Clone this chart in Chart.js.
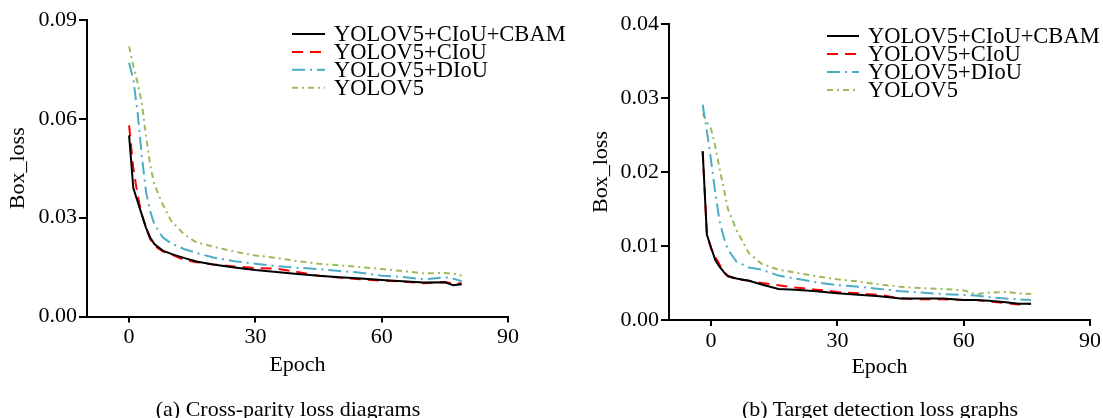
<!DOCTYPE html>
<html>
<head>
<meta charset="utf-8">
<script src="https://cdn.jsdelivr.net/npm/chart.js@4.4.1/dist/chart.umd.min.js"></script>
<style>
  body { margin: 0; background: #fff; }
  #wrap { position: relative; width: 1103px; height: 418px; overflow: hidden; }
  canvas { position: absolute; top: 0; }
  #chart-a { left: 0; }
  #chart-b { left: 551px; }
  .caption {
    position: absolute; top: 396px; height: 24px; line-height: 24px;
    font: 22px "Liberation Serif", serif; color: #000; text-align: center; white-space: nowrap;
  }
</style>
</head>
<body>
<div id="wrap">
  <canvas id="chart-a" width="600" height="418"></canvas>
  <canvas id="chart-b" width="552" height="418"></canvas>
  <div class="caption" style="left:88px;width:400px;">(a) Cross-parity loss diagrams</div>
  <div class="caption" style="left:680px;width:400px;">(b) Target detection loss graphs</div>
</div>
<script>
const seriesNames = ['YOLOV5+CIoU+CBAM', 'YOLOV5+CIoU', 'YOLOV5+DIoU', 'YOLOV5'];

// (a) cross-parity loss
const epochsA = [0, 1, 2, 3, 4, 5, 6, 8, 10, 13, 16, 20, 25, 30, 35, 40, 45, 50, 55, 60, 65, 70, 75, 77, 79];
const cbamA = [0.055, 0.039, 0.035, 0.031, 0.027, 0.024, 0.022, 0.020, 0.019, 0.0178, 0.0167, 0.0158, 0.0149, 0.0141, 0.0135, 0.0129, 0.0124, 0.0119, 0.0115, 0.0111, 0.0107, 0.0103, 0.0104, 0.0095, 0.0098];
const ciouA = [0.058, 0.045, 0.037, 0.031, 0.027, 0.0235, 0.0215, 0.0198, 0.0188, 0.0172, 0.0165, 0.0158, 0.0152, 0.0147, 0.0145, 0.0135, 0.0124, 0.0118, 0.0113, 0.0109, 0.0106, 0.0101, 0.0105, 0.0100, 0.0101];
const diouA = [0.077, 0.072, 0.062, 0.049, 0.038, 0.032, 0.028, 0.024, 0.0222, 0.0205, 0.0193, 0.0179, 0.0168, 0.0160, 0.0153, 0.0148, 0.0144, 0.0138, 0.0133, 0.0124, 0.0120, 0.0113, 0.0119, 0.0115, 0.0107];
const yoloA = [0.082, 0.076, 0.071, 0.065, 0.055, 0.046, 0.040, 0.034, 0.029, 0.0250, 0.0225, 0.0212, 0.0197, 0.0185, 0.0178, 0.0168, 0.0160, 0.0155, 0.0150, 0.0144, 0.0138, 0.0131, 0.0132, 0.0130, 0.0124];
const yTicksA = [0, 0.03, 0.06, 0.09];

// (b) target detection loss
const epochsB = [-2, -1, 0, 1, 2, 3, 4, 6, 9, 12, 16, 20, 25, 30, 35, 40, 45, 50, 55, 60, 63, 66, 70, 73, 76];
const cbamB = [0.0228, 0.0115, 0.0098, 0.0081, 0.0072, 0.0065, 0.0059, 0.0056, 0.0053, 0.0048, 0.0042, 0.0041, 0.0039, 0.0036, 0.0034, 0.0032, 0.0029, 0.0029, 0.0029, 0.0027, 0.0027, 0.0026, 0.0024, 0.0022, 0.0022];
const ciouB = [0.0228, 0.0116, 0.0096, 0.0085, 0.0075, 0.0064, 0.0060, 0.0055, 0.0053, 0.0050, 0.0047, 0.0044, 0.0041, 0.0038, 0.0036, 0.0034, 0.0029, 0.0028, 0.0028, 0.0027, 0.0027, 0.0025, 0.0023, 0.0021, 0.0022];
const diouB = [0.0291, 0.0255, 0.0215, 0.0172, 0.0134, 0.0112, 0.0095, 0.0079, 0.0071, 0.0068, 0.0060, 0.0056, 0.0051, 0.0047, 0.0045, 0.0042, 0.0039, 0.0037, 0.0035, 0.0034, 0.0033, 0.0031, 0.0029, 0.0028, 0.0027];
const yoloB = [0.0279, 0.0268, 0.0258, 0.0234, 0.0205, 0.0178, 0.0150, 0.0122, 0.0090, 0.0076, 0.0068, 0.0064, 0.0059, 0.0055, 0.0052, 0.0048, 0.0045, 0.0043, 0.0042, 0.0040, 0.0035, 0.0037, 0.0038, 0.0036, 0.0035];
const yTicksB = [0, 0.01, 0.02, 0.03, 0.04];

const xTicks = [0, 30, 60, 90];

const colors = ['#000000', '#ff0000', '#4bacc6', '#9bbb59'];
const dashes = [[], [11, 7], [13, 5, 2, 5], [6, 4, 2, 4]];

Chart.defaults.font.family = '"Liberation Serif", "Times New Roman", serif';
Chart.defaults.font.size = 21;
Chart.defaults.color = '#000';

// legend drawn inside the plot, short line sample + label
const lineLegend = {
    id: 'lineLegend',
    afterDraw(chart, args, opts) {
        const ctx = chart.ctx;
        ctx.save();
        ctx.font = opts.size + 'px "Liberation Serif", serif';
        ctx.textBaseline = 'alphabetic';
        chart.data.datasets.forEach((ds, i) => {
            const y = opts.y + i * opts.rowH;
            ctx.strokeStyle = ds.borderColor;
            ctx.lineWidth = ds.borderWidth;
            ctx.setLineDash(ds.borderDash);
            ctx.beginPath();
            ctx.moveTo(opts.x, y);
            ctx.lineTo(opts.x + opts.len, y);
            ctx.stroke();
            ctx.fillStyle = '#000';
            ctx.fillText(ds.label, opts.x + opts.len + opts.gap, y + opts.size * 0.33);
        });
        ctx.restore();
    }
};

function makeDatasets(epochs, seriesList) {
    return seriesList.map((values, i) => ({
        label: seriesNames[i],
        data: epochs.map((e, j) => ({ x: e, y: values[j] })),
        borderColor: colors[i],
        borderWidth: 2,
        borderDash: dashes[i],
        pointRadius: 0,
        tension: 0,
        fill: false
    }));
}

function createChart(canvas, epochs, seriesList, yMax, yTicks, box) {
    new Chart(canvas, {
        type: 'line',
        data: { datasets: makeDatasets(epochs, seriesList) },
        plugins: [lineLegend],
        options: {
            responsive: false,
            animation: false,
            devicePixelRatio: 1,
            layout: { padding: { top: box.top, right: box.right, left: 0, bottom: 0 } },
            plugins: {
                legend: { display: false },
                tooltip: { enabled: false },
                lineLegend: box.legend
            },
            scales: {
                x: {
                    type: 'linear',
                    min: -10,
                    max: 90,
                    afterBuildTicks: s => { s.ticks = xTicks.map(v => ({ value: v })); },
                    afterFit: s => { s.height = box.xHeight; },
                    grid: { drawOnChartArea: false, drawTicks: true, tickLength: 6, color: '#000', lineWidth: 2 },
                    border: { display: true, color: '#000', width: 2 },
                    ticks: { padding: 2, maxRotation: 0, font: { size: 22 } },
                    title: { display: true, text: 'Epoch', font: { size: 22 }, padding: { top: 0, bottom: box.epochPad } }
                },
                y: {
                    type: 'linear',
                    min: 0,
                    max: yMax,
                    afterBuildTicks: s => { s.ticks = yTicks.map(v => ({ value: v })); },
                    afterFit: s => { s.width = box.yWidth; },
                    grid: { drawOnChartArea: false, drawTicks: true, tickLength: 8, color: '#000', lineWidth: 2 },
                    border: { display: true, color: '#000', width: 2 },
                    ticks: { padding: 2, font: { size: 22 }, callback: v => v.toFixed(2) },
                    title: { display: true, text: 'Box_loss', font: { size: 22 }, padding: { top: box.boxPad, bottom: 0 } }
                }
            }
        }
    });
}

createChart(document.getElementById('chart-a'), epochsA, [cbamA, ciouA, diouA, yoloA], 0.09, yTicksA, {
    top: 20, right: 92, xHeight: 101.5, yWidth: 87, epochPad: 40, boxPad: 5,
    legend: { x: 292, y: 34, rowH: 17.9, len: 33, gap: 9, size: 22.5 }
});

createChart(document.getElementById('chart-b'), epochsB, [cbamB, ciouB, diouB, yoloB], 0.04, yTicksB, {
    top: 24, right: 12, xHeight: 98, yWidth: 118, epochPad: 38, boxPad: 37,
    legend: { x: 276, y: 36, rowH: 18, len: 32, gap: 9, size: 22.5 }
});
</script>
</body>
</html>
